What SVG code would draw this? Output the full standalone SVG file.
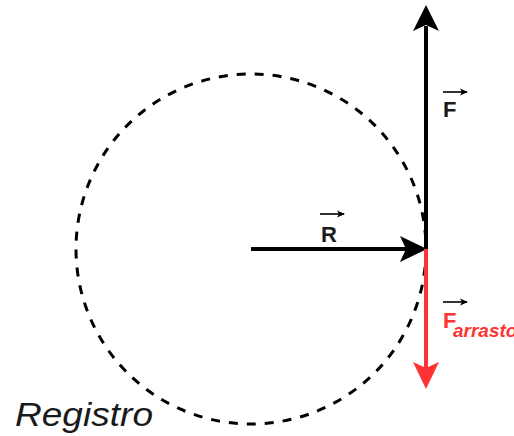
<svg xmlns="http://www.w3.org/2000/svg" width="514" height="436" viewBox="0 0 514 436">
<defs>
<marker id="sm" markerWidth="8" markerHeight="8" refX="7" refY="4" orient="auto" markerUnits="userSpaceOnUse">
<path d="M0,0.5 L8,4 L0,7.5 L2,4 Z" fill="#000"/>
</marker>
</defs>
<style>
.lbl{font-family:"Liberation Sans",Arial,sans-serif;font-weight:bold;font-size:22px;fill:#1a1a1a}
.vec{stroke:#000;stroke-width:1.6;fill:none}
.reg{font-family:"Liberation Sans",Arial,sans-serif;font-style:italic;font-size:34px;fill:#1a1a1a}
</style>
<rect width="514" height="436" fill="#fff"/>
<g id="circle">
<circle cx="251" cy="249" r="175" fill="none" stroke="#000" stroke-width="3" stroke-dasharray="9 9"/>
</g>
<g id="connectors">
<g id="F-arrow">
<line x1="426" y1="249" x2="426" y2="26" stroke="#000" stroke-width="4"/>
<path d="M426,5 L439,31 L426,25 L413,31 Z" fill="#000"/>
</g>
<g id="R-arrow">
<line x1="251" y1="249" x2="407" y2="249" stroke="#000" stroke-width="4"/>
<path d="M427,249 L400,262 L406,249 L400,236 Z" fill="#000"/>
</g>
<g id="Farrasto-arrow">
<line x1="426" y1="249" x2="426" y2="368" stroke="#FF3333" stroke-width="4"/>
<path d="M426,389 L413,362 L426,368 L439,362 Z" fill="#FF3333"/>
</g>
</g>
<g id="label-F">
<line class="vec" x1="443" y1="92" x2="467" y2="92" marker-end="url(#sm)"/>
<text class="lbl" x="443" y="117">F</text>
</g>
<g id="label-R">
<line class="vec" x1="320" y1="214" x2="344" y2="214" marker-end="url(#sm)"/>
<text class="lbl" x="321" y="242">R</text>
</g>
<g id="label-Farrasto">
<line class="vec" x1="443" y1="302" x2="467" y2="302" marker-end="url(#sm)"/>
<text class="lbl" x="443" y="328" style="fill:#FF3333">F<tspan x="453" dy="9" style="font-style:italic;font-size:19px">arrasto</tspan></text>
</g>
<g id="label-Registro">
<text class="reg" x="15" y="426" textLength="138" lengthAdjust="spacingAndGlyphs">Registro</text>
</g>
</svg>
